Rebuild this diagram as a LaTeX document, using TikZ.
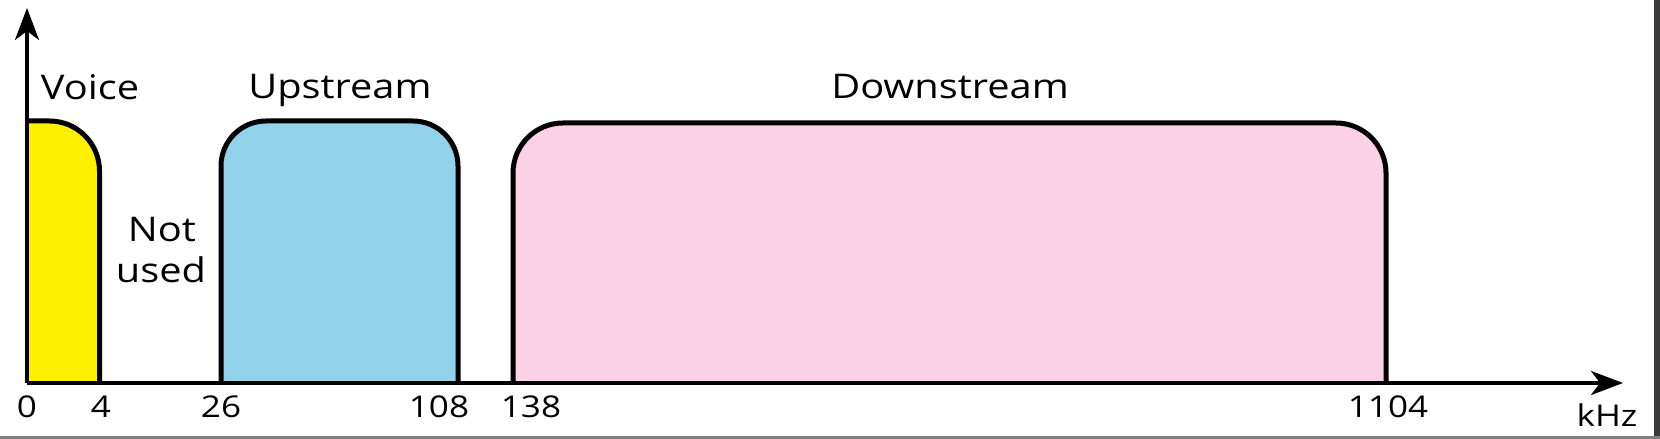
\documentclass[tikz,border=0pt]{standalone}
\usepackage{fontspec}
\setmainfont[FakeStretch=1.17]{Open Sans}
\usetikzlibrary{arrows.meta}
\definecolor{voicecol}{HTML}{FFF000}
\definecolor{upcol}{HTML}{92D2EA}
\definecolor{downcol}{HTML}{FDD1E5}
\definecolor{framecol}{HTML}{3A3A3A}
\begin{document}
\begin{tikzpicture}[x=1pt,y=1pt,
  band/.style={line width=5pt,draw=black,line join=round},
  axisline/.style={line width=3.5pt,draw=black,-{Stealth[length=32pt,width=24pt,inset=9pt]}},
  biglabel/.style={font=\fontsize{34}{40}\selectfont,anchor=base,inner sep=0pt},
  ticklabel/.style={font=\fontsize{30}{36}\selectfont,anchor=base,inner sep=0pt}]
\useasboundingbox (0,0) rectangle (1660,439);
\fill[white] (0,0) rectangle (1660,439);
% frame artefacts
\fill[framecol] (1654,0) rectangle (1660,439);
\fill[gray] (0,0) rectangle (1660,2.5);
% coordinates
\coordinate (O) at (27,56);
\coordinate (ytip) at (27,431);
\coordinate (xtip) at (1623,56);
% voice band
\fill[voicecol,rounded corners=50pt] (27,56) -- (27,318) -- (99.5,318) -- (99.5,56) -- cycle;
\fill[voicecol] (27,56) rectangle (99.5,250);
\fill[voicecol] (27,56) rectangle (58,318);
\draw[band] (27,318) [rounded corners=50pt] -- (99.5,318) -- (99.5,56);
% upstream band
\fill[upcol,rounded corners=45pt] (221,56) -- (221,318) -- (458,318) -- (458,56) -- cycle;
\fill[upcol] (221,56) rectangle (458,250);
\draw[band] (221,56) [rounded corners=45pt] -- (221,318) -- (458,318) -- (458,56);
% downstream band
\fill[downcol,rounded corners=50pt] (513,56) -- (513,316) -- (1386,316) -- (1386,56) -- cycle;
\fill[downcol] (513,56) rectangle (1386,250);
\draw[band] (513,56) [rounded corners=50pt] -- (513,316) -- (1386,316) -- (1386,56);
% axes
\draw[axisline] (O) -- (ytip);
\draw[axisline] (O) -- (xtip);
% labels
\node[biglabel] (voice) at (90,339) {Voice};
\node[biglabel] (up) at (340,340) {Upstream};
\node[biglabel] (down) at (950,340) {Downstream};
\node[biglabel] (not) at (162,197) {Not};
\node[biglabel] (used) at (161,156) {used};
% ticks
\node[ticklabel] (t0) at (27,21) {0};
\node[ticklabel] (t4) at (101,21) {4};
\node[ticklabel] (t26) at (221,21) {26};
\node[ticklabel] (t108) at (439,21) {108};
\node[ticklabel] (t138) at (531,21) {138};
\node[ticklabel] (t1104) at (1388,21) {1104};
\node[ticklabel] (khz) at (1607,12) {kHz};
\end{tikzpicture}
\end{document}
